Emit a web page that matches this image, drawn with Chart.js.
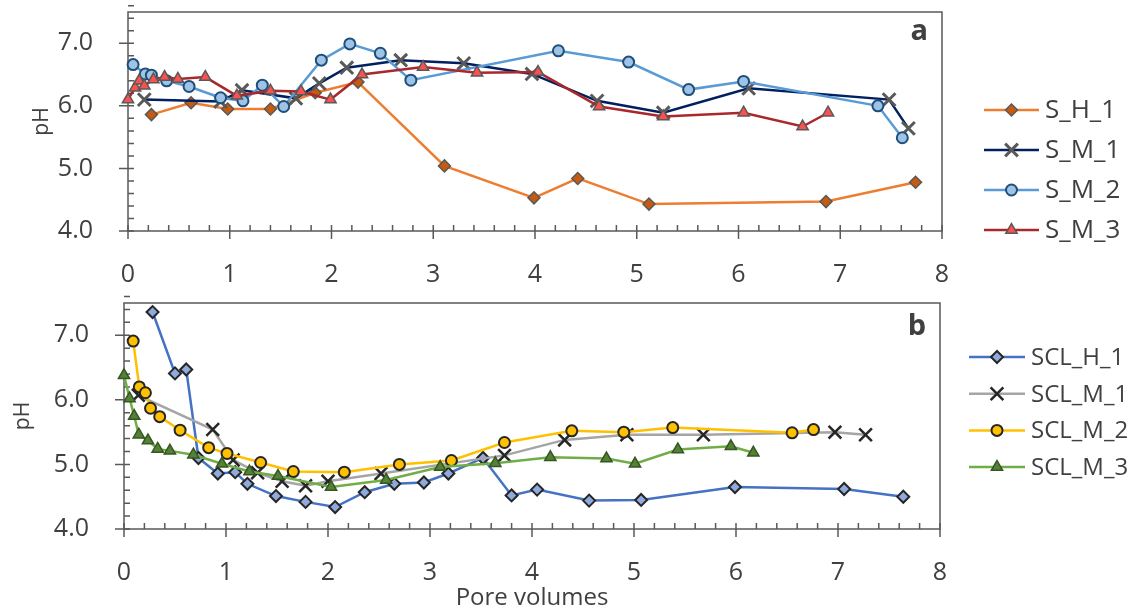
<!DOCTYPE html>
<html>
<head>
<meta charset="utf-8">
<script src="https://cdn.jsdelivr.net/npm/chart.js@4.4.0/dist/chart.umd.min.js"></script>
<style>
  body { margin: 0; background: #fff; }
  #wrap { position: relative; width: 1142px; height: 611px; }
  canvas { position: absolute; left: 0; }
  #chartA { top: 0; }
  #chartB { top: 290px; }
</style>
</head>
<body>
<div id="wrap">
  <canvas id="chartA" width="1142" height="290"></canvas>
  <canvas id="chartB" width="1142" height="321"></canvas>
</div>
<script>
// ---- panel a: sand columns ----
const sH1X = [0.23, 0.62, 0.98, 1.40, 1.84, 2.26, 3.11, 3.99, 4.42, 5.12, 6.86, 7.74];
const sH1Y = [5.86, 6.05, 5.95, 5.95, 6.21, 6.38, 5.04, 4.53, 4.84, 4.43, 4.47, 4.78];

const sM1X = [0.16, 0.91, 1.12, 1.65, 1.88, 2.15, 2.68, 3.30, 3.97, 4.61, 5.26, 6.10, 7.48, 7.67];
const sM1Y = [6.10, 6.07, 6.25, 6.12, 6.36, 6.61, 6.73, 6.68, 6.51, 6.08, 5.89, 6.28, 6.10, 5.64];

const sM2X = [0.05, 0.17, 0.23, 0.38, 0.60, 0.91, 1.13, 1.32, 1.53, 1.90, 2.18, 2.48, 2.78, 4.23, 4.92, 5.51, 6.05, 7.37, 7.61];
const sM2Y = [6.66, 6.51, 6.49, 6.40, 6.31, 6.13, 6.08, 6.33, 5.99, 6.73, 6.99, 6.84, 6.41, 6.88, 6.70, 6.26, 6.39, 6.00, 5.49];

const sM3X = [0.00, 0.07, 0.11, 0.16, 0.25, 0.36, 0.49, 0.76, 1.07, 1.40, 1.70, 1.99, 2.30, 2.90, 3.43, 4.03, 4.63, 5.26, 6.05, 6.63, 6.88];
const sM3Y = [6.10, 6.29, 6.40, 6.32, 6.42, 6.46, 6.43, 6.46, 6.16, 6.24, 6.23, 6.10, 6.50, 6.62, 6.53, 6.54, 5.99, 5.83, 5.89, 5.67, 5.89];

// ---- panel b: sandy clay loam columns ----
const sclH1X = [0.28, 0.50, 0.61, 0.73, 0.92, 1.09, 1.21, 1.49, 1.78, 2.07, 2.36, 2.65, 2.94, 3.18, 3.52, 3.80, 4.05, 4.56, 5.07, 5.99, 7.06, 7.64];
const sclH1Y = [7.36, 6.41, 6.47, 5.10, 4.86, 4.88, 4.70, 4.51, 4.42, 4.34, 4.57, 4.70, 4.72, 4.86, 5.10, 4.52, 4.61, 4.44, 4.45, 4.65, 4.62, 4.50];

const sclM1X = [0.14, 0.87, 1.07, 1.31, 1.55, 1.78, 2.00, 2.52, 3.73, 4.32, 4.93, 5.68, 6.97, 7.27];
const sclM1Y = [6.07, 5.54, 5.07, 4.87, 4.74, 4.67, 4.74, 4.86, 5.14, 5.38, 5.46, 5.46, 5.50, 5.46];

const sclM2X = [0.09, 0.15, 0.21, 0.26, 0.35, 0.55, 0.83, 1.01, 1.34, 1.66, 2.16, 2.70, 3.21, 3.73, 4.39, 4.90, 5.38, 6.55, 6.76];
const sclM2Y = [6.91, 6.20, 6.11, 5.87, 5.74, 5.53, 5.26, 5.17, 5.03, 4.89, 4.88, 5.00, 5.06, 5.34, 5.52, 5.50, 5.57, 5.49, 5.54];

const sclM3X = [0.00, 0.055, 0.10, 0.145, 0.235, 0.33, 0.45, 0.68, 0.96, 1.23, 1.51, 2.03, 2.57, 3.10, 3.64, 4.18, 4.73, 5.01, 5.43, 5.95, 6.17];
const sclM3Y = [6.38, 6.02, 5.75, 5.46, 5.37, 5.24, 5.21, 5.15, 5.01, 4.89, 4.82, 4.65, 4.76, 4.96, 5.02, 5.11, 5.09, 5.01, 5.23, 5.28, 5.18];

// axes
const xMin = 0, xMax = 8, xStep = 1;
const yMin = 4, yMax = 7.5;
const yTicks = [4, 5, 6, 7];
const minorStep = 0.2;

const axisColor = '#595959';
const textColor = '#404040';

Chart.defaults.font.family = "'Open Sans', 'Noto Sans', sans-serif";
Chart.defaults.color = textColor;

function pts(xs, ys) {
    return xs.map((x, i) => ({x: x, y: ys[i]}));
}

function series(label, xs, ys, line, style, fill, border, radius, bw) {
    return {
        label: label,
        data: pts(xs, ys),
        borderColor: line,
        borderWidth: 2.5,
        pointStyle: style,
        pointRadius: radius,
        pointHoverRadius: radius,
        pointBackgroundColor: fill,
        pointBorderColor: border,
        pointBorderWidth: bw,
        tension: 0,
        clip: false
    };
}

// plot frame plus Excel-like major/minor ticks
const frameTicks = {
    id: 'frameTicks',
    beforeDatasetsDraw(chart) {
        const {ctx, chartArea: a, scales} = chart;
        const x = scales.x, y = scales.y;
        ctx.save();
        ctx.strokeStyle = axisColor;
        ctx.lineWidth = 1.5;
        ctx.strokeRect(a.left, a.top, a.right - a.left, a.bottom - a.top);
        ctx.beginPath();
        const nx = Math.round((xMax - xMin) / minorStep);
        for (let i = 0; i <= nx; i++) {
            const px = x.getPixelForValue(xMin + i * minorStep);
            const major = i % 5 === 0;
            ctx.moveTo(px, a.bottom - 6);
            ctx.lineTo(px, a.bottom + (major ? 8 : 0));
        }
        const ny = Math.round((yMax - yMin) / minorStep);
        for (let i = 0; i <= ny; i++) {
            const py = y.getPixelForValue(yMin + i * minorStep);
            const major = i % 5 === 0;
            ctx.moveTo(a.left + 6, py);
            ctx.lineTo(a.left - (major ? 9 : 0), py);
        }
        ctx.stroke();
        ctx.restore();
    }
};

// panel letter in the top right corner
const panelTag = {
    id: 'panelTag',
    afterDraw(chart, args, opts) {
        const {ctx, chartArea: a} = chart;
        ctx.save();
        ctx.font = "bold 29px 'Open Sans', sans-serif";
        ctx.fillStyle = textColor;
        ctx.textAlign = 'right';
        ctx.textBaseline = 'alphabetic';
        ctx.fillText(opts.text, a.right - 14, a.top + opts.baseline);
        ctx.restore();
    }
};

// legend on the right: line segment with the marker on it, then the name
const sideLegend = {
    id: 'sideLegend',
    afterDraw(chart, args, opts) {
        const ctx = chart.ctx;
        ctx.save();
        ctx.font = opts.size + "px 'Open Sans', sans-serif";
        ctx.textBaseline = 'middle';
        ctx.textAlign = 'left';
        chart.data.datasets.forEach((ds, i) => {
            const y = opts.top + i * opts.gap;
            ctx.strokeStyle = ds.borderColor;
            ctx.lineWidth = ds.borderWidth;
            ctx.beginPath();
            ctx.moveTo(opts.left, y);
            ctx.lineTo(opts.left + opts.lineW, y);
            ctx.stroke();
            ctx.fillStyle = ds.pointBackgroundColor;
            ctx.strokeStyle = ds.pointBorderColor;
            ctx.lineWidth = ds.pointBorderWidth;
            Chart.helpers.drawPoint(ctx, {
                pointStyle: ds.pointStyle,
                radius: ds.pointRadius,
                rotation: 0,
                borderWidth: ds.pointBorderWidth
            }, opts.left + opts.lineW / 2, y);
            ctx.fillStyle = textColor;
            ctx.fillText(ds.label, opts.left + opts.lineW + 6, y + 1);
        });
        ctx.restore();
    }
};

function makeChart(id, datasets, cfg) {
    // later series sit on top, like the spreadsheet
    datasets.forEach((ds, i) => { ds.order = datasets.length - i; });
    return new Chart(document.getElementById(id), {
        type: 'line',
        data: {datasets: datasets},
        options: {
            responsive: false,
            animation: false,
            events: [],
            layout: {padding: {left: 0, top: cfg.top, right: cfg.right, bottom: 0}},
            plugins: {
                legend: {display: false},
                tooltip: {enabled: false},
                panelTag: {text: cfg.tag, baseline: cfg.tagBase},
                sideLegend: cfg.legend
            },
            scales: {
                x: {
                    type: 'linear',
                    min: xMin,
                    max: xMax,
                    grid: {display: false},
                    border: {display: false},
                    ticks: {stepSize: xStep, maxRotation: 0, autoSkip: false, padding: 21, font: {size: 25}},
                    title: {
                        display: !!cfg.xTitle,
                        text: cfg.xTitle || '',
                        font: {size: 24},
                        padding: {top: 0, bottom: -2}
                    },
                    afterFit(s) {
                        s.height = cfg.xH;
                        s.paddingLeft = 0;
                        s.paddingRight = 0;
                    }
                },
                y: {
                    min: yMin,
                    max: yMax,
                    grid: {display: false},
                    border: {display: false},
                    afterBuildTicks(s) {
                        s.ticks = yTicks.map(v => ({value: v}));
                    },
                    ticks: {
                        padding: 27,
                        font: {size: 25},
                        callback: v => v.toFixed(1)
                    },
                    title: {
                        display: true,
                        text: 'pH',
                        font: {size: 21},
                        padding: {top: cfg.yTitlePad, bottom: 0}
                    },
                    afterFit(s) {
                        s.width = cfg.yW;
                        s.paddingTop = 0;
                        s.paddingBottom = 0;
                    }
                }
            }
        },
        plugins: [frameTicks, panelTag, sideLegend]
    });
}

makeChart('chartA', [
    series('S_H_1', sH1X, sH1Y, '#ED7D31', 'rectRot', '#C55A11', '#595959', 6, 1.5),
    series('S_M_1', sM1X, sM1Y, '#002060', 'crossRot', '#595959', '#595959', 9, 3),
    series('S_M_2', sM2X, sM2Y, '#5B9BD5', 'circle', '#9DC3E6', '#1F4E79', 5.5, 2),
    series('S_M_3', sM3X, sM3Y, '#A9282C', 'triangle', '#FF5050', '#595959', 6.5, 1.5)
], {
    top: 10, right: 200, yW: 128, xH: 59, yTitlePad: 29,
    tag: 'a', tagBase: 28,
    legend: {left: 984, top: 110, gap: 40, lineW: 55, size: 26}
});

makeChart('chartB', [
    series('SCL_H_1', sclH1X, sclH1Y, '#4472C4', 'rectRot', '#8FAADC', '#262626', 6, 2),
    series('SCL_M_1', sclM1X, sclM1Y, '#A5A5A5', 'crossRot', '#262626', '#262626', 9, 2.5),
    series('SCL_M_2', sclM2X, sclM2Y, '#FFC000', 'circle', '#FFC000', '#262626', 5.5, 2),
    series('SCL_M_3', sclM3X, sclM3Y, '#70AD47', 'triangle', '#548235', '#375623', 6.5, 1.5)
], {
    top: 13, right: 202, yW: 124, xH: 82, yTitlePad: 10,
    tag: 'b', tagBase: 32, xTitle: 'Pore volumes',
    legend: {left: 969, top: 67, gap: 36.7, lineW: 56, size: 24}
});
</script>
</body>
</html>
